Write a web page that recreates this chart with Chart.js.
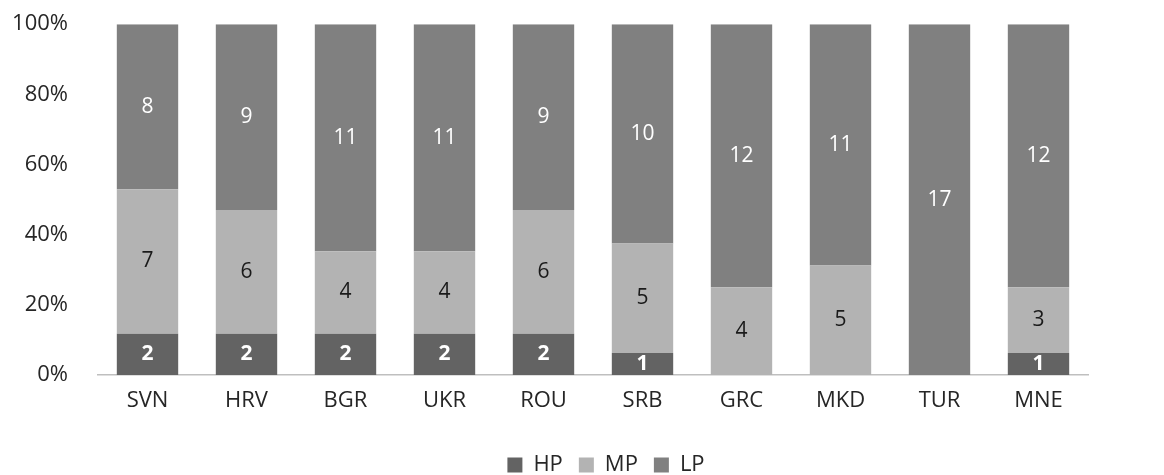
<!DOCTYPE html>
<html>
<head>
<meta charset="utf-8">
<script src="https://cdn.jsdelivr.net/npm/chart.js@4/dist/chart.umd.min.js"></script>
<style>
  html, body { margin: 0; padding: 0; background: #fff; overflow: hidden; }
  #wrap { position: relative; width: 1164px; height: 475px; overflow: hidden; }
  #barChart { position: absolute; left: 0; top: -19px; }
</style>
</head>
<body>
<div id="wrap"><canvas id="barChart" width="1164" height="505"></canvas></div>
<script>
// ---------------- data ----------------
const countries = ['SVN', 'HRV', 'BGR', 'UKR', 'ROU', 'SRB', 'GRC', 'MKD', 'TUR', 'MNE'];
const hp = [2, 2, 2, 2, 2, 1, 0, 0, 0, 1];
const mp = [7, 6, 4, 4, 6, 5, 4, 5, 0, 3];
const lp = [8, 9, 11, 11, 9, 10, 12, 11, 17, 12];
const yTicks = [0, 20, 40, 60, 80, 100];

const totals = countries.map((c, i) => hp[i] + mp[i] + lp[i]);
const share = arr => arr.map((v, i) => v / totals[i] * 100);

const fontFam = "'Open Sans', 'Liberation Sans', sans-serif";

// draws the counts in the middle of each segment
const segmentLabels = {
    id: 'segmentLabels',
    afterDatasetsDraw(chart) {
        const ctx = chart.ctx;
        chart.data.datasets.forEach((ds, di) => {
            const meta = chart.getDatasetMeta(di);
            meta.data.forEach((bar, i) => {
                const n = ds.counts[i];
                if (!n) return;
                ctx.save();
                ctx.font = (ds.labelBold ? 'bold ' : '') + '21px ' + fontFam;
                ctx.fillStyle = ds.labelColor;
                ctx.textAlign = 'center';
                ctx.textBaseline = 'middle';
                ctx.fillText(String(n), bar.x, (bar.y + bar.base) / 2);
                ctx.restore();
            });
        });
    }
};

// legend sits a bit right of the plot centre in the original
const legendShift = {
    id: 'legendShift',
    afterLayout(chart) {
        chart.legend.left += 62;
        chart.legend.right += 62;
    }
};

document.addEventListener('DOMContentLoaded', function(){
    const ctx = document.getElementById('barChart');
    new Chart(ctx, {
        type: 'bar',
        data: {
            labels: countries,
            datasets: [
                { label: 'HP', data: share(hp), counts: hp, backgroundColor: '#636363', labelColor: '#ffffff', labelBold: true },
                { label: 'MP', data: share(mp), counts: mp, backgroundColor: '#b3b3b3', labelColor: '#1a1a1a', labelBold: false },
                { label: 'LP', data: share(lp), counts: lp, backgroundColor: '#808080', labelColor: '#ffffff', labelBold: false }
            ]
        },
        options: {
            responsive: false,
            animation: false,
            layout: { padding: { top: 10, right: 76, left: 0, bottom: 0 } },
            datasets: {
                bar: { categoryPercentage: 1, barPercentage: 0.62, borderWidth: 0 }
            },
            scales: {
                x: {
                    stacked: true,
                    grid: { display: false, drawTicks: false },
                    border: { color: '#bfbfbf', width: 1.5 },
                    afterFit(axis) { axis.height = 63; },
                    ticks: { color: '#262626', font: { family: fontFam, size: 22 }, padding: 13 }
                },
                y: {
                    stacked: true,
                    min: 0,
                    max: 100,
                    afterBuildTicks(axis) { axis.ticks = yTicks.map(v => ({ value: v })); },
                    afterFit(axis) { axis.width = 98; },
                    grid: { display: false, drawTicks: false },
                    border: { display: false },
                    ticks: {
                        color: '#262626',
                        font: { family: fontFam, size: 22 },
                        padding: 30,
                        callback: v => v + '%'
                    }
                }
            },
            plugins: {
                legend: {
                    position: 'bottom',
                    labels: {
                        color: '#262626',
                        font: { family: fontFam, size: 22 },
                        boxWidth: 15,
                        boxHeight: 15,
                        padding: 16,
                        useBorderRadius: false
                    }
                },
                tooltip: { enabled: false }
            }
        },
        plugins: [segmentLabels, legendShift]
    });
});
</script>
</body>
</html>
